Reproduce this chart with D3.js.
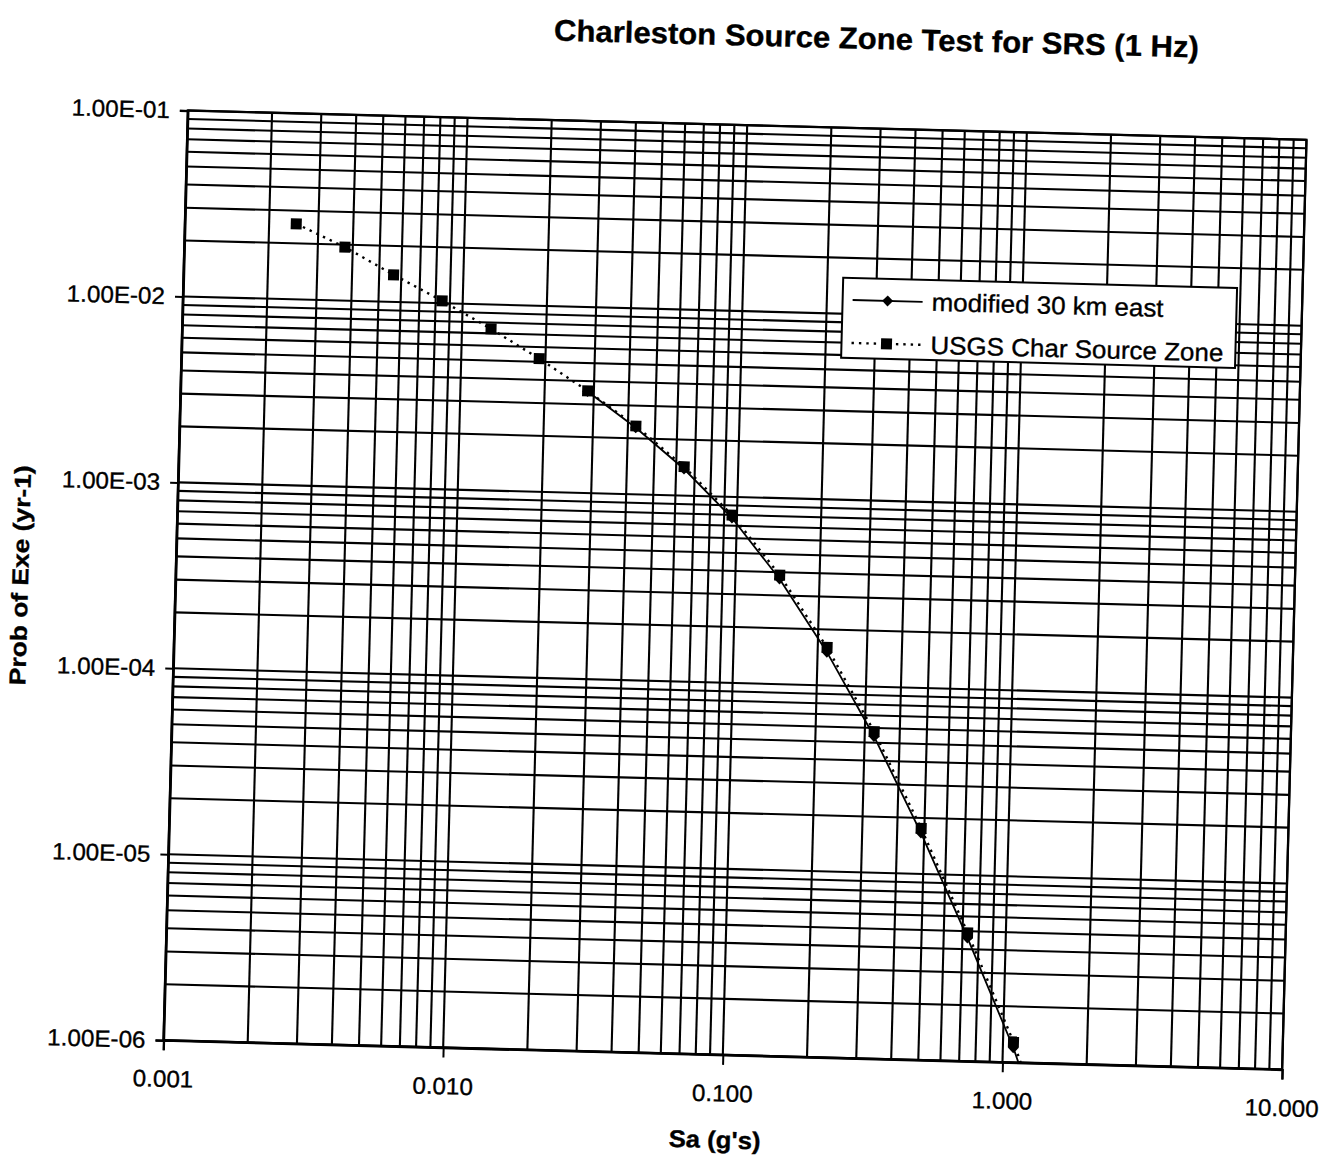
<!DOCTYPE html>
<html>
<head>
<meta charset="utf-8">
<script src="https://cdn.jsdelivr.net/npm/d3@7"></script>
<style>
  html, body { margin: 0; padding: 0; background: #fff; }
  svg { display: block; }
  text { font-family: "Liberation Sans", Arial, Helvetica, sans-serif; fill: #000; stroke: #000; stroke-width: 0.35px; }
</style>
</head>
<body>
<svg id="chart" width="1320" height="1165"></svg>
<script>
// Spectral acceleration levels (g)
const sa = [0.0025, 0.00375, 0.00563, 0.00844, 0.0127, 0.0190, 0.0285, 0.0427, 0.0641,
            0.0961, 0.144, 0.216, 0.324, 0.487, 0.730, 1.09, 1.64];

// Annual probability of exceedance, USGS characteristic source zone
const usgsProb = [0.0255, 0.0194, 0.0140, 0.0103, 0.0074, 0.0052, 0.00354, 0.00233, 0.00143,
                  0.000798, 0.000386, 0.000160, 5.73e-5, 1.76e-5, 4.9e-6, 1.29e-6, 2.5e-7];

// Annual probability of exceedance, source zone shifted 30 km east
const modifiedProb = [null, null, null, null, null, null, 0.00352, 0.00228, 0.00139,
                      0.000770, 0.000368, 0.000151, 5.4e-5, 1.66e-5, 4.6e-6, 1.2e-6, 2.3e-7];

const seriesNames = ["modified 30 km east", "USGS Char Source Zone"];

const xTickValues = [0.001, 0.01, 0.1, 1, 10];
const xTickLabels = ["0.001", "0.010", "0.100", "1.000", "10.000"];
const yTickValues = [1e-1, 1e-2, 1e-3, 1e-4, 1e-5, 1e-6];
const yTickLabels = ["1.00E-01", "1.00E-02", "1.00E-03", "1.00E-04", "1.00E-05", "1.00E-06"];

const titleText = "Charleston Source Zone Test for SRS (1 Hz)";
const xTitle = "Sa (g's)";
const yTitle = "Prob of Exe (yr-1)";

// ---- layout ----
const plot = { left: 175.5, top: 125, right: 1294.5, bottom: 1055 };
const cx = 735, cy = 590;

const svg = d3.select("#chart");
const root = svg.append("g").attr("transform", `rotate(1.5 ${cx} ${cy})`);

const x = d3.scaleLog().domain([0.001, 10]).range([plot.left, plot.right]);
const y = d3.scaleLog().domain([1e-6, 0.1]).range([plot.bottom, plot.top]);

// horizontal stretch of a text element to a factor of its natural width
function stretch(sel, k) {
  sel.each(function () {
    const w = this.getComputedTextLength();
    d3.select(this).attr("textLength", w * k).attr("lengthAdjust", "spacingAndGlyphs");
  });
}

root.append("defs").append("clipPath").attr("id", "plotClip")
  .append("rect")
  .attr("x", plot.left).attr("y", plot.top)
  .attr("width", plot.right - plot.left).attr("height", plot.bottom - plot.top);

// plot background
root.append("rect")
  .attr("x", plot.left).attr("y", plot.top)
  .attr("width", plot.right - plot.left).attr("height", plot.bottom - plot.top)
  .attr("fill", "#fff");

// ---- grid (major + minor, log) ----
const grid = root.append("g").attr("stroke", "#000").attr("stroke-width", 2.1);
grid.selectAll("line.v").data(x.ticks()).join("line")
  .attr("class", "v")
  .attr("x1", d => x(d)).attr("x2", d => x(d))
  .attr("y1", plot.top).attr("y2", plot.bottom);
grid.selectAll("line.h").data(y.ticks()).join("line")
  .attr("class", "h")
  .attr("x1", plot.left).attr("x2", plot.right)
  .attr("y1", d => y(d)).attr("y2", d => y(d));

// plot border
root.append("rect")
  .attr("x", plot.left).attr("y", plot.top)
  .attr("width", plot.right - plot.left).attr("height", plot.bottom - plot.top)
  .attr("fill", "none").attr("stroke", "#000").attr("stroke-width", 2.3);

// ---- axes ----
const xAxis = root.append("g")
  .attr("transform", `translate(0,${plot.bottom})`)
  .call(d3.axisBottom(x).tickValues(xTickValues)
    .tickFormat((d, i) => xTickLabels[i]).tickSize(10).tickPadding(20));
const yAxis = root.append("g")
  .attr("transform", `translate(${plot.left},0)`)
  .call(d3.axisLeft(y).tickValues(yTickValues)
    .tickFormat((d, i) => yTickLabels[i]).tickSize(8).tickPadding(10));

[xAxis, yAxis].forEach(ax => {
  ax.select(".domain").attr("stroke", "#000").attr("stroke-width", 2.3);
  ax.selectAll(".tick line").attr("stroke", "#000").attr("stroke-width", 2);
  ax.selectAll(".tick text").attr("font-size", 23.5).attr("fill", "#000")
    .style("font-family", "'Liberation Sans', Arial, sans-serif");
});
stretch(xAxis.selectAll(".tick text"), 1.03);
stretch(yAxis.selectAll(".tick text"), 1.03);

// ---- series ----
const dataLayer = root.append("g").attr("clip-path", "url(#plotClip)");

const modifiedPts = sa.map((s, i) => ({ s, p: modifiedProb[i] })).filter(d => d.p != null);
const usgsPts = sa.map((s, i) => ({ s, p: usgsProb[i] }));

const line = d3.line().x(d => x(d.s)).y(d => y(d.p));

const inDomain = d => d.p >= 1e-6 && d.p <= 0.1 && d.s >= 0.001 && d.s <= 10;
const diamond = "M0,-5.5L5.5,0L0,5.5L-5.5,0Z";

// modified 30 km east: solid line, diamonds
dataLayer.append("path").datum(modifiedPts)
  .attr("d", line).attr("fill", "none")
  .attr("stroke", "#000").attr("stroke-width", 1.8);
dataLayer.selectAll("path.dia").data(modifiedPts.filter(inDomain)).join("path")
  .attr("class", "dia")
  .attr("d", diamond)
  .attr("transform", d => `translate(${x(d.s)},${y(d.p)})`)
  .attr("fill", "#000");

// USGS characteristic source zone: dotted line, squares
dataLayer.append("path").datum(usgsPts)
  .attr("d", line).attr("fill", "none")
  .attr("stroke", "#000").attr("stroke-width", 2.4)
  .attr("stroke-dasharray", "2.4,5");
dataLayer.selectAll("rect.sq").data(usgsPts.filter(inDomain)).join("rect")
  .attr("class", "sq")
  .attr("x", d => x(d.s) - 5.5).attr("y", d => y(d.p) - 5.5)
  .attr("width", 11).attr("height", 11)
  .attr("fill", "#000");

// ---- legend ----
const lg = root.append("g");
lg.append("rect")
  .attr("x", 835).attr("y", 275).attr("width", 394).attr("height", 80)
  .attr("fill", "#fff").attr("stroke", "#000").attr("stroke-width", 2);

const rows = [
  { name: seriesNames[0], y: 297, dash: null, sym: "diamond", width: 232 },
  { name: seriesNames[1], y: 340, dash: "2.4,5", sym: "square", width: 293 }
];
rows.forEach(r => {
  lg.append("line")
    .attr("x1", 845).attr("x2", 915).attr("y1", r.y).attr("y2", r.y)
    .attr("stroke", "#000").attr("stroke-width", r.dash ? 2.4 : 1.8)
    .attr("stroke-dasharray", r.dash);
  if (r.sym === "diamond") {
    lg.append("path").attr("d", diamond)
      .attr("transform", `translate(880,${r.y})`).attr("fill", "#000");
  } else {
    lg.append("rect").attr("x", 874.5).attr("y", r.y - 5.5)
      .attr("width", 11).attr("height", 11).attr("fill", "#000");
  }
  lg.append("text")
    .attr("x", 924).attr("y", r.y).attr("dy", "0.35em")
    .attr("font-size", 25)
    .attr("textLength", r.width).attr("lengthAdjust", "spacingAndGlyphs")
    .text(r.name);
});

// ---- titles ----
root.append("text")
  .attr("x", 862).attr("y", 35).attr("dy", "0.35em")
  .attr("text-anchor", "middle").attr("font-size", 30).attr("font-weight", "bold")
  .attr("textLength", 645).attr("lengthAdjust", "spacingAndGlyphs")
  .text(titleText);

root.append("text")
  .attr("x", 729).attr("y", 1140).attr("dy", "0.35em")
  .attr("text-anchor", "middle").attr("font-size", 24).attr("font-weight", "bold")
  .attr("textLength", 92).attr("lengthAdjust", "spacingAndGlyphs")
  .text(xTitle);

root.append("text")
  .attr("transform", "translate(20,594) rotate(-90)")
  .attr("dy", "0.35em")
  .attr("text-anchor", "middle").attr("font-size", 23).attr("font-weight", "bold")
  .attr("textLength", 220).attr("lengthAdjust", "spacingAndGlyphs")
  .text(yTitle);
</script>
</body>
</html>
